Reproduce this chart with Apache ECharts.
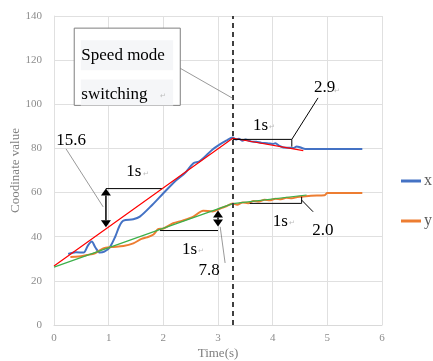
<!DOCTYPE html>
<html>
<head>
<meta charset="utf-8">
<script src="https://cdn.jsdelivr.net/npm/echarts@6/dist/echarts.min.js"></script>
<style>
    html, body { margin: 0; padding: 0; background: #fff; }
    #chart { width: 433px; height: 361px; }
</style>
</head>
<body>
<div id="chart"></div>
<script>
// measured x coordinate (blue)
const xSeries = [
    [0.26, 32.2], [0.4, 33.0], [0.54, 32.8], [0.62, 36.0], [0.69, 37.8],
    [0.76, 35.0], [0.84, 32.8], [0.92, 33.2], [1.02, 35.2], [1.12, 40.0],
    [1.2, 45.0], [1.27, 47.3], [1.45, 47.9], [1.57, 49.1], [1.8, 54.5],
    [2.0, 59.7], [2.24, 65.7], [2.4, 69.0], [2.55, 73.3], [2.65, 74.0],
    [2.73, 75.5], [2.9, 79.5], [3.02, 81.6], [3.15, 83.5], [3.27, 85.0],
    [3.33, 84.0], [3.38, 84.4], [3.45, 83.5], [3.5, 84.0], [3.6, 83.2],
    [3.7, 83.0], [3.8, 82.5], [3.9, 82.4], [4.0, 82.0], [4.05, 82.3],
    [4.12, 81.2], [4.2, 80.4], [4.3, 80.3], [4.38, 80.2], [4.44, 80.9],
    [4.5, 80.5], [4.6, 79.7], [5.64, 79.7],
];
// measured y coordinate (orange)
const ySeries = [
    [0.3, 30.8], [0.45, 31.0], [0.6, 31.7], [0.75, 32.5], [0.9, 34.7],
    [1.05, 35.3], [1.27, 35.8], [1.45, 37.0], [1.6, 39.0], [1.7, 39.7],
    [1.82, 41.0], [1.91, 43.5], [2.0, 43.7], [2.18, 46.1], [2.35, 47.3],
    [2.55, 49.1], [2.73, 51.8], [2.9, 51.4], [3.04, 52.8], [3.15, 53.8],
    [3.27, 55.1], [3.35, 54.5], [3.45, 55.5], [3.55, 55.2], [3.65, 56.2],
    [3.75, 55.9], [3.85, 56.8], [3.95, 56.5], [4.05, 57.2], [4.15, 57.0],
    [4.25, 57.6], [4.35, 57.4], [4.45, 58.0], [4.53, 58.1], [4.7, 58.6],
    [4.95, 58.8], [5.0, 59.8], [5.64, 59.8],
];
// fitted reference lines
const xFit = [[0, 26.7], [3.27, 84.6], [4.56, 79.0]];
const yFit = [[0, 26.2], [3.27, 55.0], [4.62, 58.9]];
const switchTime = 3.27;

const xTicks = [0, 6, 1];
const yTicks = [0, 140, 20];

const serif = '"Liberation Serif", "Times New Roman", serif';
const chart = echarts.init(document.getElementById('chart'));

chart.setOption({
    animation: false,
    grid: {left: 54, right: 51, top: 16, bottom: 36, outerBoundsMode: 'none', containLabel: false},
    legend: {
        data: ['x', 'y'],
        orient: 'vertical',
        left: 401,
        top: 173,
        icon: 'rect',
        itemWidth: 20,
        itemHeight: 3,
        itemGap: 24,
        padding: 0,
        textStyle: {fontFamily: serif, fontSize: 16, color: '#595959', padding: [0, 0, 0, -2]},
    },
    xAxis: {
        type: 'value',
        min: xTicks[0],
        max: xTicks[1],
        interval: xTicks[2],
        name: 'Time(s)',
        nameLocation: 'middle',
        nameGap: 22,
        nameMoveOverlap: false,
        nameTextStyle: {fontFamily: serif, fontSize: 13, color: '#7f7f7f'},
        axisLine: {lineStyle: {color: '#d9d9d9'}},
        axisTick: {show: false},
        axisLabel: {fontFamily: serif, fontSize: 11, color: '#8c8c8c', margin: 8},
        splitLine: {lineStyle: {color: '#e0e0e0'}},
    },
    yAxis: {
        type: 'value',
        min: yTicks[0],
        max: yTicks[1],
        interval: yTicks[2],
        name: 'Coodinate value',
        nameLocation: 'middle',
        nameGap: 32,
        nameMoveOverlap: false,
        nameTextStyle: {fontFamily: serif, fontSize: 13, color: '#7f7f7f'},
        axisLine: {show: true, lineStyle: {color: '#e0e0e0'}},
        axisTick: {show: false},
        axisLabel: {fontFamily: serif, fontSize: 11, color: '#8c8c8c', margin: 12},
        splitLine: {lineStyle: {color: '#e0e0e0'}},
    },
    series: [
        {
            name: 'x',
            type: 'line',
            data: xSeries,
            smooth: 0.3,
            symbol: 'none',
            z: 3,
            lineStyle: {color: '#4472c4', width: 2},
            itemStyle: {color: '#4472c4'},
        },
        {
            name: 'y',
            type: 'line',
            data: ySeries,
            smooth: 0.3,
            symbol: 'none',
            z: 3,
            lineStyle: {color: '#ed7d31', width: 2},
            itemStyle: {color: '#ed7d31'},
        },
        {
            name: 'x-fit',
            type: 'line',
            data: xFit,
            symbol: 'none',
            z: 4,
            lineStyle: {color: '#ff0000', width: 1.2},
            markLine: {
                silent: true,
                symbol: 'none',
                label: {show: false},
                lineStyle: {color: '#404040', type: [5, 4], width: 2},
                data: [{xAxis: switchTime}],
            },
        },
        {
            name: 'y-fit',
            type: 'line',
            data: yFit,
            symbol: 'none',
            z: 4,
            lineStyle: {color: '#3cb04a', width: 1.2},
        },
    ],
});

// annotations, placed in data coordinates
function px(t, v) {
    return chart.convertToPixel({gridIndex: 0}, [t, v]);
}
function seg(a, b, color, width) {
    const p = px(a[0], a[1]);
    const q = px(b[0], b[1]);
    return {
        type: 'line',
        z: 10,
        shape: {x1: p[0], y1: p[1], x2: q[0], y2: q[1]},
        style: {stroke: color || '#000', lineWidth: width || 1},
    };
}
function label(t, v, text, align) {
    const p = px(t, v);
    return {
        type: 'text',
        z: 11,
        x: p[0],
        y: p[1],
        style: {
            text: text,
            font: '17px ' + serif,
            fill: '#000',
            align: align || 'center',
            verticalAlign: 'middle',
        },
    };
}
function mark(t, v) {
    const p = px(t, v);
    return {
        type: 'text',
        z: 11,
        x: p[0],
        y: p[1],
        style: {text: '↵', font: '7px sans-serif', fill: '#bbb', align: 'left', verticalAlign: 'middle'},
    };
}
function arrow(t, v1, v2) {
    const a = px(t, v1);
    const b = px(t, v2);
    const hw = 5;
    const hh = 7;
    return [
        {
            type: 'line', z: 10,
            shape: {x1: a[0], y1: a[1] + hh, x2: b[0], y2: b[1] - hh},
            style: {stroke: '#000', lineWidth: 1.5},
        },
        {
            type: 'polygon', z: 10,
            shape: {points: [[a[0], a[1]], [a[0] - hw, a[1] + hh], [a[0] + hw, a[1] + hh]]},
            style: {fill: '#000'},
        },
        {
            type: 'polygon', z: 10,
            shape: {points: [[b[0], b[1]], [b[0] - hw, b[1] - hh], [b[0] + hw, b[1] - hh]]},
            style: {fill: '#000'},
        },
    ];
}

const boxTL = px(0.37, 134.5);
const boxBR = px(2.31, 99.5);
const row1 = px(0.49, 129.0);
const row2 = px(0.49, 111.2);
const rowW = px(2.18, 0)[0] - row1[0];

const graphics = [
    // text box
    {
        type: 'rect', z: 10,
        shape: {x: boxTL[0], y: boxTL[1], width: boxBR[0] - boxTL[0], height: boxBR[1] - boxTL[1]},
        style: {fill: '#fff', stroke: '#7f7f7f', lineWidth: 1},
    },
    {
        type: 'rect', z: 10,
        shape: {x: row1[0], y: row1[1], width: rowW, height: 30},
        style: {fill: '#f5f6f8'},
    },
    {
        type: 'rect', z: 10,
        shape: {x: row2[0], y: row2[1], width: rowW, height: 26},
        style: {fill: '#f5f6f8'},
    },
    label(0.5, 122.2, 'Speed mode', 'left'),
    label(0.5, 104.5, 'switching', 'left'),
    mark(1.93, 103.5),
    seg([2.31, 116.3], [switchTime, 102.7], '#7f7f7f', 0.8),

    // 15.6 bracket
    seg([0.95, 61.8], [1.97, 61.8]),
    ...arrow(0.95, 61.8, 44.3),
    label(1.46, 69.5, '1s'),
    mark(1.62, 68.5),
    label(0.04, 83.8, '15.6', 'left'),
    seg([0.22, 79.8], [0.9, 53.5], '#7f7f7f', 0.8),

    // 7.8 bracket
    seg([1.94, 42.8], [3.0, 42.8]),
    ...arrow(3.0, 51.9, 44.6),
    label(2.48, 34.4, '1s'),
    mark(2.64, 33.5),
    label(3.03, 24.9, '7.8', 'right'),
    seg([3.04, 44.5], [3.13, 28.1], '#7f7f7f', 0.8),

    // 2.9 bracket
    seg([switchTime, 84.1], [4.35, 84.1]),
    seg([4.35, 84.1], [4.35, 80.8]),
    seg([4.35, 84.1], [4.83, 102.9]),
    label(3.78, 90.6, '1s'),
    mark(3.94, 89.8),
    label(4.95, 107.4, '2.9'),
    mark(5.13, 106.2),

    // 2.0 bracket
    seg([3.58, 55.1], [4.53, 55.1]),
    seg([4.53, 55.1], [4.53, 58.1]),
    seg([4.53, 56.6], [4.74, 51.3]),
    label(4.14, 46.8, '1s'),
    mark(4.3, 46.0),
    label(4.92, 43.0, '2.0'),
];

chart.setOption({graphic: graphics});
</script>
</body>
</html>
